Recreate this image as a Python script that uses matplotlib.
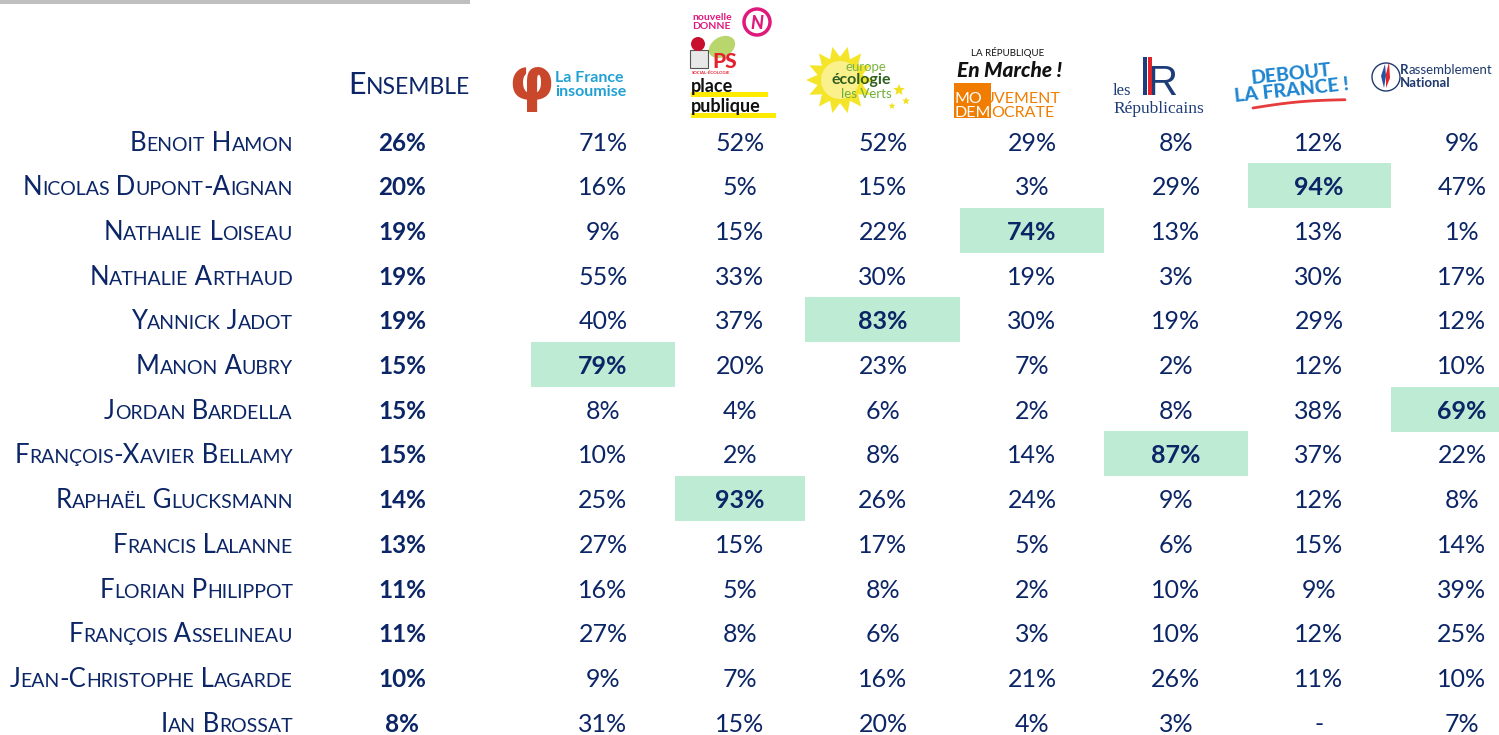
import matplotlib
matplotlib.use("Agg")
import matplotlib.pyplot as plt
from matplotlib.font_manager import FontProperties
from matplotlib.patches import Rectangle, Circle, Ellipse, Polygon
import numpy as np

# ---------------- data ----------------
candidates = ["Benoit Hamon", "Nicolas Dupont-Aignan", "Nathalie Loiseau", "Nathalie Arthaud",
              "Yannick Jadot", "Manon Aubry", "Jordan Bardella", "François-Xavier Bellamy",
              "Raphaël Glucksmann", "Francis Lalanne", "Florian Philippot", "François Asselineau",
              "Jean-Christophe Lagarde", "Ian Brossat"]
ensemble = [26, 20, 19, 19, 19, 15, 15, 15, 14, 13, 11, 11, 10, 8]
parties = ["LFI", "PS-PP-ND", "EELV", "LREM-MoDem", "LR", "DLF", "RN"]
lfi   = [71, 16, 9, 55, 40, 79, 8, 10, 25, 27, 16, 27, 9, 31]
ps    = [52, 5, 15, 33, 37, 20, 4, 2, 93, 15, 5, 8, 7, 15]
eelv  = [52, 15, 22, 30, 83, 23, 6, 8, 26, 17, 8, 6, 16, 20]
lrem  = [29, 3, 74, 19, 30, 7, 2, 14, 24, 5, 2, 3, 21, 4]
lr    = [8, 29, 13, 3, 19, 2, 8, 87, 9, 6, 10, 10, 26, 3]
dlf   = [12, 94, 13, 30, 29, 12, 38, 37, 12, 15, 9, 12, 11, None]
rn    = [9, 47, 1, 17, 12, 10, 69, 22, 8, 14, 39, 25, 10, 7]
columns = [lfi, ps, eelv, lrem, lr, dlf, rn]

# ---------------- layout ----------------
W, H = 1499, 735
NAVY = "#0B2566"
HIGHLIGHT = "#BEEBD4"
FONT = "Lato"

fig = plt.figure(figsize=(W / 100, H / 100), dpi=100)
ax = fig.add_axes([0, 0, 1, 1])
ax.set_xlim(0, W)
ax.set_ylim(H, 0)
ax.axis("off")
renderer = fig.canvas.get_renderer()

row_y0, row_step = 141.5, 44.7
col_centers = [603, 740, 883, 1032, 1176, 1319, 1462]
col_bounds = [531, 675, 805, 960, 1104, 1248, 1391, 1535]
ens_x = 402
name_right = 293


def text_w(s, size, weight="normal", family=FONT, style="normal"):
    fp = FontProperties(family=family, size=size, weight=weight, style=style)
    w1, _, _ = renderer.get_text_width_height_descent("|" + s + "|", fp, ismath=False)
    w0, _, _ = renderer.get_text_width_height_descent("||", fp, ismath=False)
    return w1 - w0


def smallcaps(x, y, s, big, small, ha="right", color=NAVY):
    segs = []
    for ch in s:
        if ch.isalpha() and ch.islower():
            kind, c = "s", ch.upper()
        else:
            kind, c = "b", ch
        if segs and segs[-1][1] == kind:
            segs[-1][0] += c
        else:
            segs.append([c, kind])
    widths = [text_w(t, big if k == "b" else small) for t, k in segs]
    total = sum(widths)
    if ha == "right":
        cx = x - total
    elif ha == "center":
        cx = x - total / 2
    else:
        cx = x
    for (t, k), w in zip(segs, widths):
        ax.text(cx, y, t, fontsize=big if k == "b" else small, family=FONT,
                color=color, ha="left", va="baseline")
        cx += w


# top grey bar
ax.add_patch(Rectangle((0, 0), 470, 4, color="#BFBFBF", lw=0))

# highlight cells (maximum of each party column)
for j, col in enumerate(columns):
    vals = [v if v is not None else -1 for v in col]
    i = int(np.argmax(vals))
    yc = row_y0 + i * row_step
    ax.add_patch(Rectangle((col_bounds[j], yc - 23), col_bounds[j + 1] - col_bounds[j], 45,
                           color=HIGHLIGHT, lw=0, zorder=0))

# rows
for i, name in enumerate(candidates):
    yc = row_y0 + i * row_step
    base = yc + 9
    smallcaps(name_right, base, name, 18.5, 14)
    ax.text(ens_x, base, f"{ensemble[i]}%", fontsize=17.5, family=FONT, weight="bold",
            color=NAVY, ha="center", va="baseline")
    for j, col in enumerate(columns):
        v = col[i]
        vals = [u if u is not None else -1 for u in col]
        is_max = (i == int(np.argmax(vals)))
        ax.text(col_centers[j], base, "-" if v is None else f"{v}%", fontsize=18, family=FONT,
                weight="bold" if is_max else "normal", color=NAVY, ha="center", va="baseline")

# ---------------- header ----------------
smallcaps(409, 94, "Ensemble", 22, 16.5, ha="center")

# La France insoumise
ax.text(531, 83, "φ", fontsize=42, family="DejaVu Sans", weight="bold", color="#C9472B",
        ha="center", va="center")
ax.text(555, 78, "La France", fontsize=11.5, family=FONT, weight="bold", color="#21A1D3",
        ha="left", va="center")
ax.text(555, 92, "insoumise", fontsize=11.5, family=FONT, weight="bold", color="#21A1D3",
        ha="left", va="center")

# Nouvelle Donne
ax.text(692, 17, "nouvelle", fontsize=7.5, family=FONT, weight="bold", color="#E0197D",
        ha="left", va="center")
ax.text(692, 26, "DONNE", fontsize=7.5, family=FONT, weight="bold", color="#E0197D",
        ha="left", va="center")
ax.add_patch(Circle((757, 22), 13, fill=False, ec="#E0197D", lw=2.5))
ax.text(757, 23, "N", fontsize=13, family=FONT, weight="black", style="italic",
        color="#E0197D", ha="center", va="center")

# PS
ax.add_patch(Ellipse((722, 47), 28, 20, angle=-30, color="#B9D66C", lw=0))
ax.add_patch(Rectangle((690, 50), 18, 18, fc="#E8E8E8", ec="#555555", lw=0.8))
ax.add_patch(Circle((698, 44), 7, color="#C8102E", lw=0))
ax.text(712, 61, "PS", fontsize=15, family=FONT, weight="black", color="#E3222E",
        ha="left", va="center")
ax.text(692, 73, "SOCIAL-ÉCOLOGIE", fontsize=3.2, family=FONT, weight="bold",
        color="#E3222E", ha="left", va="center")

# Place publique
ax.add_patch(Rectangle((691, 92), 77, 5, color="#FFEB00", lw=0))
ax.add_patch(Rectangle((691, 113), 85, 5, color="#FFEB00", lw=0))
ax.text(691, 92, "place", fontsize=13, family=FONT, weight="bold", color="#111111",
        ha="left", va="baseline")
ax.text(691, 112, "publique", fontsize=13, family=FONT, weight="bold", color="#111111",
        ha="left", va="baseline")

# Europe Ecologie Les Verts
ang = np.linspace(0, 2 * np.pi, 29)[:-1]
rad = np.where(np.arange(28) % 2 == 0, 34, 23)
sun = np.column_stack([840 + rad * np.cos(ang), 80 + rad * np.sin(ang)])
ax.add_patch(Polygon(sun, closed=True, color="#F4E52A", lw=0))
ax.add_patch(Circle((840, 80), 19, color="#FAF08C", lw=0))
for (sx, sy, r) in [(899, 90, 6), (906, 101, 4), (892, 106, 3.5)]:
    a = np.linspace(0, 2 * np.pi, 11)[:-1] - np.pi / 2
    rr = np.where(np.arange(10) % 2 == 0, r, r * 0.45)
    ax.add_patch(Polygon(np.column_stack([sx + rr * np.cos(a), sy + rr * np.sin(a)]),
                         closed=True, color="#F2E11E", lw=0))
ax.text(866, 67, "europe", fontsize=9.5, family=FONT, color="#7DB442", ha="center", va="center")
ax.text(861, 80, "écologie", fontsize=11.5, family=FONT, weight="bold", color="#2F5E1E",
        ha="center", va="center")
ax.text(866, 94, "les Verts", fontsize=9.5, family=FONT, color="#6FAE3A", ha="center", va="center")

# La République En Marche / MoDem
ax.text(1008, 52, "LA RÉPUBLIQUE", fontsize=7, family=FONT, color="#111111",
        ha="center", va="center")
ax.text(1010, 70, "En Marche !", fontsize=15, family=FONT, weight="black", style="italic",
        color="#111111", ha="center", va="center")
x0 = 955
fs_mo = 11.5
wmo = text_w("MO", fs_mo)
wdem = text_w("DEM", fs_mo)
ax.add_patch(Rectangle((x0 - 1, 83), max(wmo, wdem) + 1, 35, color="#F07D00", lw=0))
ax.text(x0, 103, "MO", fontsize=fs_mo, family=FONT, color="white",
        ha="left", va="baseline")
ax.text(x0 + wmo, 103, "UVEMENT", fontsize=fs_mo, family=FONT, color="#F07D00",
        ha="left", va="baseline")
ax.text(x0, 117, "DEM", fontsize=fs_mo, family=FONT, color="white",
        ha="left", va="baseline")
ax.text(x0 + wdem, 117, "OCRATE", fontsize=fs_mo, family=FONT, color="#F07D00",
        ha="left", va="baseline")

# Les Républicains
LRB = "#1D3C78"
ax.add_patch(Rectangle((1143, 57), 4, 38, color=LRB, lw=0))
ax.text(1148, 95, "R", fontsize=30, family="Liberation Sans", color=LRB, ha="left", va="baseline")
ax.add_patch(Rectangle((1148.5, 57), 4, 38, color="#E1232B", lw=0, zorder=5))
ax.text(1113, 95, "les", fontsize=12, family="Liberation Serif", color=LRB,
        ha="left", va="baseline")
ax.text(1113, 113, "Républicains", fontsize=12.5, family="Liberation Serif", color=LRB,
        ha="left", va="baseline")

# Debout la France
ax.text(1291, 74, "DEBOUT", fontsize=14, family=FONT, weight="black", color="#1F86CF",
        ha="center", va="center", rotation=6)
ax.text(1292, 91, "LA FRANCE !", fontsize=14, family=FONT, weight="black", color="#1F86CF",
        ha="center", va="center", rotation=6)
sx = np.linspace(1253, 1345, 30)
sy = 108 - (sx - 1253) * 0.09 - 2 * np.sin((sx - 1253) / 92 * np.pi)
ax.plot(sx, sy, color="#E63C3C", lw=2, solid_capstyle="round")

# Rassemblement National
RNB = "#1F3A6E"
ax.add_patch(Circle((1386, 77), 14, fill=False, ec=RNB, lw=1))
ax.add_patch(Polygon([(1384, 88), (1381, 76), (1385, 64), (1386, 76)], closed=True,
                     color="#2B4FA0", lw=0))
ax.add_patch(Polygon([(1386, 88), (1386, 74), (1389, 62), (1390, 78)], closed=True,
                     color="#E1232B", lw=0))
ax.text(1400, 70, "R", fontsize=9.5, family=FONT, weight="bold", color=RNB, ha="left", va="center")
ax.text(1400 + text_w("R", 9.5, weight="bold"), 70, "assemblement", fontsize=9.5, family=FONT,
        color=RNB, ha="left", va="center")
ax.text(1400, 83, "National", fontsize=9.5, family=FONT, weight="bold", color=RNB,
        ha="left", va="center")

fig.savefig("out.png", dpi=100)
